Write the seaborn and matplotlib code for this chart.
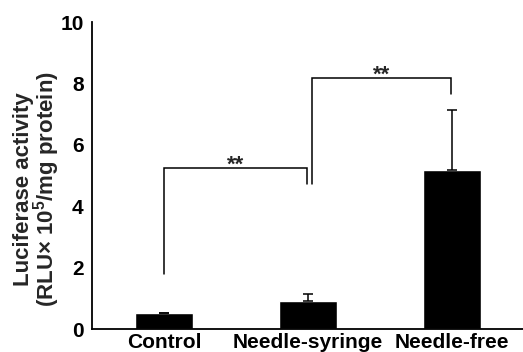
import matplotlib
matplotlib.use("Agg")
import matplotlib.pyplot as plt
import seaborn as sns
import pandas as pd

categories = ["Control", "Needle-syringe", "Needle-free"]
values = [0.51, 0.92, 5.18]
errors = [0.03, 0.23, 1.97]

# significance brackets: (left x, right x, left foot, right foot, top)
bracket_left = [0.0, 1.03]
bracket_right = [0.99, 1.99]
bracket_left_foot = [1.8, 4.72]
bracket_right_foot = [4.72, 7.65]
bracket_top = [5.24, 8.17]
bracket_text = ["**", "**"]

yticks = [0, 2, 4, 6, 8, 10]

sns.set_theme(style="white")
plt.rcParams["font.family"] = ["Liberation Sans", "DejaVu Sans"]
plt.rcParams["font.weight"] = "bold"
plt.rcParams["mathtext.fontset"] = "custom"
plt.rcParams["mathtext.bf"] = "Liberation Sans:bold"
plt.rcParams["mathtext.rm"] = "Liberation Sans:bold"
plt.rcParams["mathtext.default"] = "bf"

fig = plt.figure(figsize=(5.23, 3.52), dpi=100)
ax = fig.add_axes([0.176, 0.065, 0.826, 0.872])

df = pd.DataFrame({"group": categories, "value": values})
sns.barplot(data=df, x="group", y="value", color="black", width=0.4,
            saturation=1, ax=ax, errorbar=None)

xpos = [p.get_x() + p.get_width() / 2 for p in ax.patches]
ax.errorbar(xpos, values, yerr=[[0] * len(errors), errors], fmt="none",
            ecolor="black", elinewidth=1.1, capsize=3.5, capthick=1.1)

for xl, xr, fl, fr, top, t in zip(bracket_left, bracket_right, bracket_left_foot,
                                  bracket_right_foot, bracket_top, bracket_text):
    ax.plot([xl, xl, xr, xr], [fl, top, top, fr], color="black", lw=1.1,
            solid_joinstyle="miter")
    ax.text((xl + xr) / 2, top - 0.08, t, ha="center", va="baseline",
            fontsize=16, fontweight="bold")

ax.set_xlim(-0.5, 2.5)
ax.set_ylim(0, 10)
ax.set_yticks(yticks)
ax.set_yticklabels([str(v) for v in yticks], fontsize=15, fontweight="bold")
ax.set_xticks(range(len(categories)))
ax.set_xticklabels(categories, fontsize=15, fontweight="bold")
ax.tick_params(axis="y", direction="in", length=3, width=1, pad=6, colors="black")
ax.tick_params(axis="x", length=0, pad=3, colors="black")
ax.set_xlabel("")
ax.set_ylabel("Luciferase activity\n(RLU× 10$^{5}$/mg protein)", fontsize=16,
              fontweight="bold", linespacing=0.85)
ax.yaxis.set_label_coords(-0.07, 0.456)

for s in ["top", "right"]:
    ax.spines[s].set_visible(False)
for s in ["left", "bottom"]:
    ax.spines[s].set_color("black")
    ax.spines[s].set_linewidth(1.3)

fig.savefig("out.png", dpi=100)
